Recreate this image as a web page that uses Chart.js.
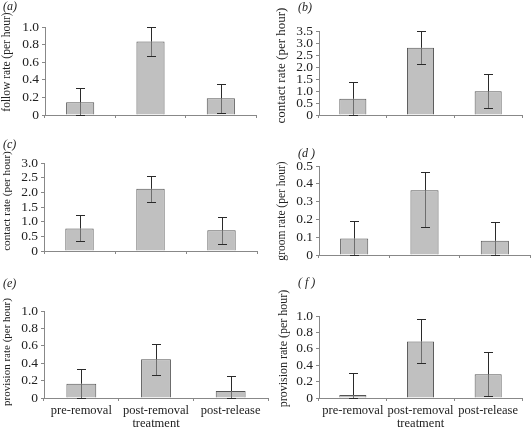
<!DOCTYPE html>
<html><head><meta charset="utf-8">
<script src="https://cdn.jsdelivr.net/npm/chart.js@4.4.1/dist/chart.umd.min.js"></script>
<style>
html,body{margin:0;padding:0;background:#fff;overflow:hidden;width:531px;height:430px;position:relative;}
canvas{position:absolute;}
.lab{position:absolute;font:italic 12px "Liberation Serif",serif;color:#222;line-height:14px;white-space:pre;}
</style></head><body>
<canvas id="ca" width="260" height="137" style="left:0;top:0"></canvas>
<canvas id="cb" width="266" height="137" style="left:265px;top:0"></canvas>
<canvas id="cc" width="262" height="133" style="left:0;top:140px"></canvas>
<canvas id="cd" width="266" height="137" style="left:265px;top:140px"></canvas>
<canvas id="ce" width="270" height="151" style="left:0;top:280px"></canvas>
<canvas id="cf" width="266" height="151" style="left:265px;top:280px"></canvas>
<div class="lab" style="left:3px;top:-1px">(a)</div>
<div class="lab" style="left:298px;top:0px">(b)</div>
<div class="lab" style="left:3px;top:137px">(c)</div>
<div class="lab" style="left:298px;top:146px">(d )</div>
<div class="lab" style="left:3px;top:276px">(e)</div>
<div class="lab" style="left:298px;top:275px">( f )</div>
<script>
// ---- data ----
const categories = ['pre-removal', 'post-removal', 'post-release'];

const followRate = [0.145, 0.835, 0.19];
const followErrUp = [0.165, 0.162, 0.16];
const followErrDown = [0.16, 0.165, 0.17];

const contactRateB = [0.675, 2.8, 0.99];
const contactErrUpB = [0.71, 0.70, 0.70];
const contactErrDownB = [0.68, 0.67, 0.71];

const contactRateC = [0.77, 2.12, 0.71];
const contactErrUpC = [0.45, 0.45, 0.46];
const contactErrDownC = [0.43, 0.45, 0.48];

const groomRate = [0.093, 0.364, 0.08];
const groomErrUp = [0.10, 0.10, 0.105];
const groomErrDown = [0.093, 0.205, 0.08];

const provisionRateE = [0.164, 0.445, 0.08];
const provisionErrUpE = [0.175, 0.17, 0.178];
const provisionErrDownE = [0.164, 0.183, 0.08];

const provisionRateF = [0.036, 0.69, 0.29];
const provisionErrUpF = [0.265, 0.27, 0.275];
const provisionErrDownF = [0.036, 0.265, 0.27];

const yTitles = ['follow rate (per hour)', 'contact rate (per hour)', 'contact rate (per hour)',
                 'groom rate (per hour)', 'provision rate (per hour)', 'provision rate (per hour)'];
const yMax = [1.0, 3.5, 3.0, 0.5, 1.0, 1.0];
const yStep = [0.2, 0.5, 0.5, 0.1, 0.2, 0.2];
const xTitle = 'treatment';

// ---- panel layout (styling only) ----
const panels = [
  {id:'ca', vals:followRate, up:followErrUp, dn:followErrDown, yW:45, padTop:27, padRight:4, xH:22, tSize:11.5, tx:7, tdy:-9, showX:false},
  {id:'cb', vals:contactRateB, up:contactErrUpB, dn:contactErrDownB, yW:54, padTop:31, padRight:9, xH:22, tSize:13, tx:17, tdy:-7.5, showX:false},
  {id:'cc', vals:contactRateC, up:contactErrUpC, dn:contactErrDownC, yW:44, padTop:23, padRight:5, xH:22, tSize:11.2, tx:7, tdy:-6, showX:false},
  {id:'cd', vals:groomRate, up:groomErrUp, dn:groomErrDown, yW:54, padTop:26, padRight:1, xH:22, tSize:11.5, tx:17, tdy:0.5, showX:false},
  {id:'ce', vals:provisionRateE, up:provisionErrUpE, dn:provisionErrDownE, yW:44, padTop:31, padRight:2, xH:33, tSize:11, tx:7, tdy:-2.5, showX:true},
  {id:'cf', vals:provisionRateF, up:provisionErrUpF, dn:provisionErrDownF, yW:54, padTop:36, padRight:9, xH:33, tSize:12, tx:18.5, tdy:-8.5, showX:true}
];

const serif = '"Liberation Serif", "Times New Roman", serif';

const errorBars = {
  id: 'errorBars',
  afterDatasetsDraw(chart) {
    const {ctx} = chart;
    const y = chart.scales.y;
    const ds = chart.data.datasets[0];
    const meta = chart.getDatasetMeta(0);
    ctx.save();
    ctx.lineWidth = 1;
    meta.data.forEach((bar, i) => {
      const v = ds.data[i];
      const yHi = Math.round(y.getPixelForValue(v + ds.errUp[i])) + 0.5;
      const yLo = Math.round(y.getPixelForValue(Math.max(0, v - ds.errDown[i]))) + 0.5;
      const yBar = bar.y;
      const x = Math.round(bar.x) + 0.5;
      const cap = 4.5;
      ctx.strokeStyle = '#6e6e6e';
      ctx.beginPath(); ctx.moveTo(x, yBar); ctx.lineTo(x, yLo); ctx.stroke();
      ctx.strokeStyle = '#2a2a2a';
      ctx.beginPath(); ctx.moveTo(x, yHi); ctx.lineTo(x, yBar); ctx.stroke();
      ctx.beginPath();
      ctx.moveTo(x - cap, yHi); ctx.lineTo(x + cap, yHi);
      ctx.moveTo(x - cap, yLo); ctx.lineTo(x + cap, yLo);
      ctx.stroke();
    });
    ctx.restore();
  }
};

// y-axis title, drawn beside the axis with a small vertical offset like the original
const yTitle = {
  id: 'yTitle',
  afterDraw(chart, args, o) {
    const {ctx, chartArea} = chart;
    ctx.save();
    ctx.font = o.size + 'px ' + serif;
    ctx.fillStyle = '#222';
    ctx.textAlign = 'center';
    ctx.textBaseline = 'middle';
    ctx.translate(o.x, (chartArea.top + chartArea.bottom) / 2 + o.dy);
    ctx.rotate(-Math.PI / 2);
    ctx.fillText(o.text, 0, 0);
    ctx.restore();
  }
};

panels.forEach((p, k) => {
  new Chart(document.getElementById(p.id), {
    type: 'bar',
    data: {
      labels: categories,
      datasets: [{
        data: p.vals, errUp: p.up, errDown: p.dn,
        backgroundColor: '#c0c0c0', borderColor: '#555', borderWidth: 1,
        barPercentage: 0.4, categoryPercentage: 1.0
      }]
    },
    options: {
      responsive: false, animation: false,
      layout: {padding: {top: p.padTop, right: p.padRight, bottom: 0, left: 0}},
      plugins: {
        legend: {display: false}, tooltip: {enabled: false},
        yTitle: {text: yTitles[k], size: p.tSize, x: p.tx, dy: p.tdy}
      },
      scales: {
        x: {
          grid: {display: true, drawOnChartArea: false, drawTicks: true, tickLength: 3, color: '#888', offset: true},
          border: {display: true, color: '#888', width: 1},
          ticks: {display: p.showX, color: '#222', padding: 2, font: {family: serif, size: 12.5}, maxRotation: 0, autoSkip: false},
          title: {display: p.showX, text: xTitle, color: '#222', font: {family: serif, size: 12.5}, padding: {top: 0, bottom: 0}},
          afterFit: s => { s.height = p.xH; }
        },
        y: {
          min: 0, max: yMax[k],
          grid: {display: true, drawOnChartArea: false, drawTicks: true, tickLength: 3, color: '#888'},
          border: {display: true, color: '#888', width: 1},
          ticks: {stepSize: yStep[k], autoSkip: false, color: '#222', padding: 3, font: {family: serif, size: 13.5},
                  callback: v => (v === 0 ? '0' : Number(v).toFixed(1))},
          title: {display: false},
          afterFit: s => { s.width = p.yW; }
        }
      }
    },
    plugins: [errorBars, yTitle]
  });
});
</script>
</body></html>
